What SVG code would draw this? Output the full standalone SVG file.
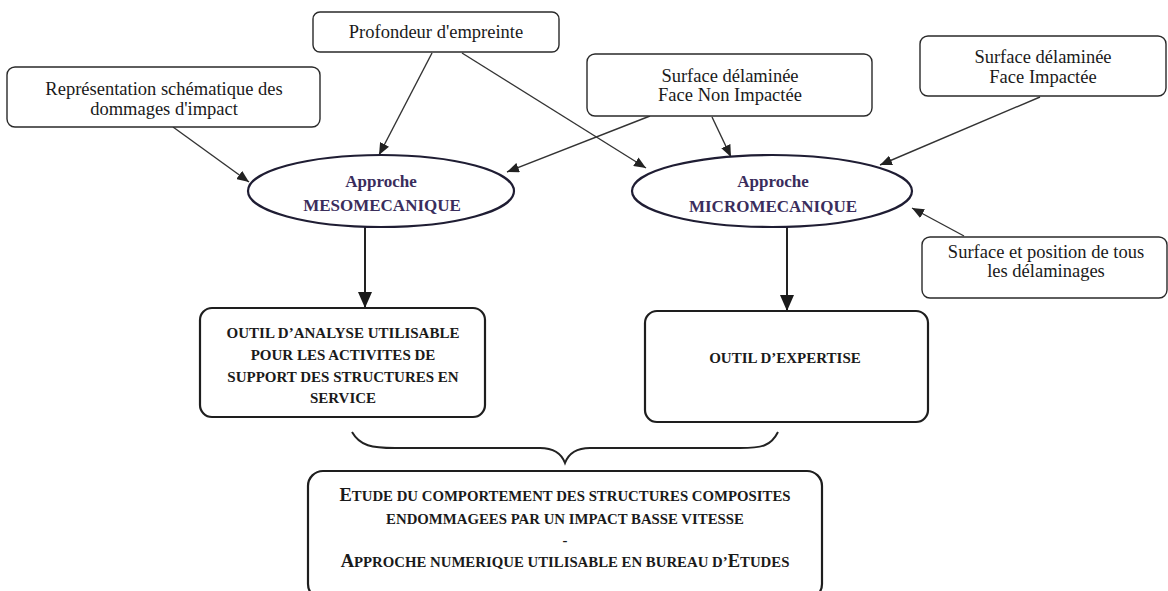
<svg xmlns="http://www.w3.org/2000/svg" width="1168" height="591" viewBox="0 0 1168 591">
<style>
  .box { fill: #fff; stroke: #2a2a2a; stroke-width: 1.4; }
  .bbox { fill: #fff; stroke: #1e1e1e; stroke-width: 2.2; }
  .ell { fill: #fff; stroke: #1f1d33; stroke-width: 2.2; }
  .t { font-family: "Liberation Serif", "Times New Roman", serif; font-size: 18.5px; fill: #1a1a1a; text-anchor: middle; }
  .e { font-family: "Liberation Serif", "Times New Roman", serif; font-size: 17px; font-weight: bold; fill: #3a2d5c; text-anchor: middle; }
  .b { font-family: "Liberation Serif", "Times New Roman", serif; font-size: 15px; font-weight: bold; fill: #1a1a1a; text-anchor: middle; }
  .sc { font-family: "Liberation Serif", "Times New Roman", serif; font-size: 14.8px; font-weight: bold; fill: #1a1a1a; text-anchor: middle; }
  .big { font-size: 18.5px; }
  .conn { fill: none; stroke: #333; stroke-width: 1.4; }
  .vconn { fill: none; stroke: #222; stroke-width: 2; }
  .brace { fill: none; stroke: #222; stroke-width: 2; }
</style>
<defs>
  <marker id="arr" markerUnits="userSpaceOnUse" markerWidth="12" markerHeight="10" refX="12" refY="5" orient="auto">
    <path d="M0,0 L12,5 L0,10 z" fill="#222"/>
  </marker>
  <marker id="arrBig" markerUnits="userSpaceOnUse" markerWidth="16" markerHeight="14" refX="16" refY="7" orient="auto">
    <path d="M0,0 L16,7 L0,14 z" fill="#1a1a1a"/>
  </marker>
</defs>
<rect width="1168" height="591" fill="#fff"/>

<g id="connectors">
  <line class="conn" x1="173" y1="127" x2="249" y2="182" marker-end="url(#arr)"/>
  <line class="conn" x1="432" y1="53" x2="379" y2="155" marker-end="url(#arr)"/>
  <line class="conn" x1="462" y1="53" x2="646" y2="168" marker-end="url(#arr)"/>
  <line class="conn" x1="650" y1="116" x2="507" y2="172" marker-end="url(#arr)"/>
  <line class="conn" x1="712" y1="117" x2="731" y2="157" marker-end="url(#arr)"/>
  <line class="conn" x1="1040" y1="97" x2="880" y2="165" marker-end="url(#arr)"/>
  <line class="conn" x1="964" y1="236" x2="912" y2="208" marker-end="url(#arr)"/>
  <line class="vconn" x1="365" y1="227" x2="365" y2="308" marker-end="url(#arrBig)"/>
  <line class="vconn" x1="787" y1="227" x2="787" y2="311" marker-end="url(#arrBig)"/>
  <path class="brace" d="M352,432 C360,446 372,448 395,448 L540,448 C556,448 562,455 565,463 C568,455 574,448 590,448 L740,448 C762,448 771,446 778,432"/>
</g>

<g id="n-profondeur">
  <rect class="box" x="313" y="12" width="246" height="40" rx="7"/>
  <text class="t" x="436" y="38">Profondeur d'empreinte</text>
</g>
<g id="n-representation">
  <rect class="box" x="7" y="67" width="313" height="60" rx="8"/>
  <text class="t" x="164" y="95">Représentation schématique des</text>
  <text class="t" x="164" y="115">dommages d'impact</text>
</g>
<g id="n-face-non-impactee">
  <rect class="box" x="587" y="54" width="285" height="62" rx="8"/>
  <text class="t" x="730" y="82">Surface délaminée</text>
  <text class="t" x="730" y="101">Face Non Impactée</text>
</g>
<g id="n-face-impactee">
  <rect class="box" x="920" y="36" width="246" height="60" rx="8"/>
  <text class="t" x="1043" y="63">Surface délaminée</text>
  <text class="t" x="1043" y="83">Face Impactée</text>
</g>
<g id="n-position">
  <rect class="box" x="922" y="237" width="245" height="61" rx="8"/>
  <text class="t" x="1046" y="258">Surface et position de tous</text>
  <text class="t" x="1046" y="277">les délaminages</text>
</g>
<g id="n-meso">
  <ellipse class="ell" cx="381" cy="191" rx="133" ry="36"/>
  <text class="e" x="381" y="187">Approche</text>
  <text class="e" x="382" y="211">MESOMECANIQUE</text>
</g>
<g id="n-micro">
  <ellipse class="ell" cx="772" cy="191" rx="140" ry="36"/>
  <text class="e" x="773" y="187">Approche</text>
  <text class="e" x="773" y="212">MICROMECANIQUE</text>
</g>
<g id="n-outil-analyse">
  <rect class="bbox" x="200" y="308" width="285" height="109" rx="12"/>
  <text class="b" x="343" y="338">OUTIL D’ANALYSE UTILISABLE</text>
  <text class="b" x="343" y="360">POUR LES ACTIVITES DE</text>
  <text class="b" x="343" y="382">SUPPORT DES STRUCTURES EN</text>
  <text class="b" x="343" y="403">SERVICE</text>
</g>
<g id="n-outil-expertise">
  <rect class="bbox" x="645" y="311" width="283" height="111" rx="12"/>
  <text class="b" x="785" y="363">OUTIL D’EXPERTISE</text>
</g>
<g id="n-etude">
  <rect class="bbox" x="308" y="471" width="514" height="128" rx="15"/>
  <text class="sc" x="565" y="501"><tspan class="big">E</tspan>TUDE DU COMPORTEMENT DES STRUCTURES COMPOSITES</text>
  <text class="sc" x="565" y="524">ENDOMMAGEES PAR UN IMPACT BASSE VITESSE</text>
  <text class="sc" x="565" y="545">-</text>
  <text class="sc" x="565" y="567"><tspan class="big">A</tspan>PPROCHE NUMERIQUE UTILISABLE EN BUREAU D’<tspan class="big">E</tspan>TUDES</text>
</g>
</svg>
